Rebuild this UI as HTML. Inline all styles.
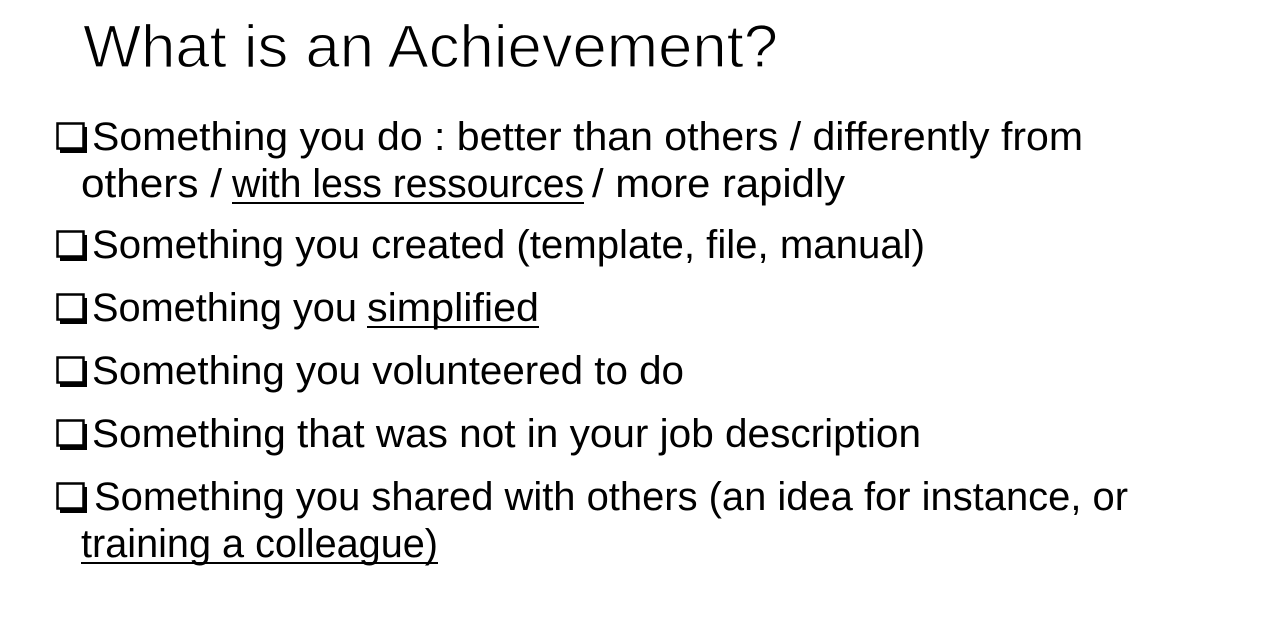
<!DOCTYPE html>
<html><head><meta charset="utf-8"><style>
html,body{margin:0;padding:0;background:#fff;}
svg{display:block;}
text{font-family:"Liberation Sans",sans-serif;fill:#000;}
</style></head><body>
<svg width="1264" height="621" viewBox="0 0 1264 621">
<text x="83" y="67" font-size="60" textLength="695" lengthAdjust="spacingAndGlyphs" stroke="#fff" stroke-width="1.2">What is an Achievement?</text>

<g><rect x="60" y="127" width="27" height="26" fill="#000"/><rect x="57.5" y="123.5" width="26" height="25" fill="#fff" stroke="#000" stroke-width="2.5"/></g>
<text x="92" y="150" font-size="40" textLength="991" lengthAdjust="spacingAndGlyphs">Something you do : better than others / differently from</text>
<text x="81" y="197" font-size="40" textLength="141" lengthAdjust="spacingAndGlyphs">others /</text>
<text x="232" y="197" font-size="40" textLength="352" lengthAdjust="spacingAndGlyphs">with less ressources</text>
<rect x="232" y="202" width="352" height="2" fill="#000"/>
<text x="592" y="197" font-size="40" textLength="253" lengthAdjust="spacingAndGlyphs">/ more rapidly</text>

<g><rect x="60" y="235" width="27" height="26" fill="#000"/><rect x="57.5" y="231.5" width="26" height="25" fill="#fff" stroke="#000" stroke-width="2.5"/></g>
<text x="92" y="258" font-size="40" textLength="833" lengthAdjust="spacingAndGlyphs">Something you created (template, file, manual)</text>

<g><rect x="60" y="298" width="27" height="26" fill="#000"/><rect x="57.5" y="294.5" width="26" height="25" fill="#fff" stroke="#000" stroke-width="2.5"/></g>
<text x="92" y="321" font-size="40" textLength="265" lengthAdjust="spacingAndGlyphs">Something you</text>
<text x="367" y="321" font-size="40" textLength="172" lengthAdjust="spacingAndGlyphs">simplified</text>
<rect x="367" y="326" width="172" height="2" fill="#000"/>

<g><rect x="60" y="361" width="27" height="26" fill="#000"/><rect x="57.5" y="357.5" width="26" height="25" fill="#fff" stroke="#000" stroke-width="2.5"/></g>
<text x="92" y="384" font-size="40" textLength="592" lengthAdjust="spacingAndGlyphs">Something you volunteered to do</text>

<g><rect x="60" y="424" width="27" height="26" fill="#000"/><rect x="57.5" y="420.5" width="26" height="25" fill="#fff" stroke="#000" stroke-width="2.5"/></g>
<text x="92" y="447" font-size="40" textLength="829" lengthAdjust="spacingAndGlyphs">Something that was not in your job description</text>

<g><rect x="60" y="487" width="27" height="26" fill="#000"/><rect x="57.5" y="483.5" width="26" height="25" fill="#fff" stroke="#000" stroke-width="2.5"/></g>
<text x="94" y="510" font-size="40" textLength="1034" lengthAdjust="spacingAndGlyphs">Something you shared with others (an idea for instance, or</text>
<text x="81" y="557" font-size="40" textLength="357" lengthAdjust="spacingAndGlyphs">training a colleague)</text>
<rect x="81" y="562" width="357" height="2" fill="#000"/>
</svg>
</body></html>
